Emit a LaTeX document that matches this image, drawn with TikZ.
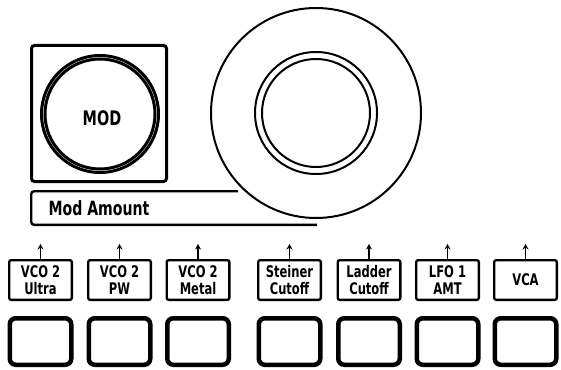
\documentclass[tikz,border=0pt]{standalone}
\usepackage{fontspec}
\newfontfamily\panelfont{DejaVu Sans}[FakeStretch=0.72]
\usetikzlibrary{arrows.meta}

\begin{document}
\begin{tikzpicture}[x=1pt,y=-1pt,
	labelbox/.style={draw,line width=2.4pt,rounded corners=2pt,minimum width=62.6pt,minimum height=39.6pt,inner sep=0pt,align=center,font=\panelfont\bfseries\fontsize{16}{17}\selectfont},
	padbox/.style={draw,line width=4.5pt,rounded corners=6pt,minimum width=61.5pt,minimum height=46.5pt,inner sep=0pt},
	tagtext/.style={inner sep=0pt,font=\panelfont\bfseries}]
	\useasboundingbox (0,0) rectangle (561,369);
	% mod wheel panel
	\draw [line width=3pt,rounded corners=3pt] (31.5,45.5) rectangle (166.5,181.5);
	\draw [line width=3pt] (100,114) circle (58.5);
	\draw [line width=3pt] (100,114) circle (55);
	\node (mod) [tagtext,font=\panelfont\bfseries\fontsize{20}{22}\selectfont] at (102,118) {MOD};
	\draw [line width=2.4pt,rounded corners=3pt] (238,191.2) -- (31.2,191.2) -- (31.2,224.8) -- (317,224.8);
	\node (amount) [tagtext,font=\panelfont\bfseries\fontsize{19.6}{21}\selectfont] at (99,208.5) {Mod Amount};
	% big knob
	\draw [line width=2pt] (316,113) circle (105);
	\draw [line width=2pt] (316,113) circle (61);
	\draw [line width=2pt] (316,113) circle (54);
	% destination labels and pads
	\foreach \px/\txt [count=\i] in {40.5/{VCO 2\\Ultra},119.5/{VCO 2\\PW},198/{VCO 2\\Metal},289.5/{Steiner\\Cutoff},369/{Ladder\\Cutoff},447.5/{LFO 1\\AMT},525.5/{VCA}}
	{
		\node (lbl\i) [labelbox] at (\px,280) {\txt};
		\node (pad\i) [padbox] at (\px,341.5) {};
		\coordinate (tip\i) at (\px,244);
		\draw [line width=1.5pt,-{Stealth[length=5.5pt,width=6pt]}] (lbl\i.north) -- (tip\i);
	}
\end{tikzpicture}
\end{document}
